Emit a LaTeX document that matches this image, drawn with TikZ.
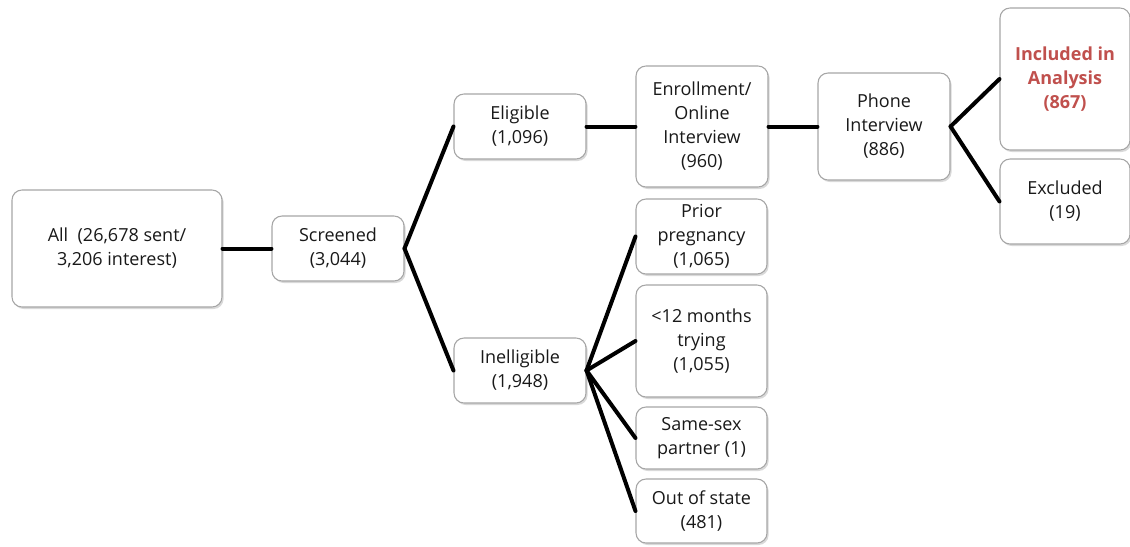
\documentclass[tikz,border=0pt]{standalone}
\usepackage{fontspec}
\setmainfont{Open Sans}
\usetikzlibrary{shadows}
\definecolor{incred}{HTML}{C0504D}
\definecolor{boxline}{HTML}{A6A6A6}
\tikzset{
  box/.style={draw=boxline, line width=0.8pt, fill=white, rounded corners=7.5pt,
    align=center, inner sep=0pt, text=black!90,
    font=\fontsize{13.5}{18}\selectfont,
    drop shadow={opacity=0.3, shadow xshift=1.2pt, shadow yshift=-1.5pt}},
  conn/.style={line width=3pt, black, line cap=round}
}
\begin{document}
\begin{tikzpicture}[x=0.75pt,y=-0.75pt]
\useasboundingbox (0,0) rectangle (1130,546);
\node[box, minimum width=157.5pt, minimum height=87.75pt] (all) at (117,248.5) {All~~(26,678 sent/\\3,206 interest)};
\node[box, minimum width=99pt, minimum height=48.75pt] (scr) at (338,248.5) {Screened\\(3,044)};
\node[box, minimum width=99pt, minimum height=48.75pt] (eli) at (520,126.5) {Eligible\\(1,096)};
\node[box, minimum width=99pt, minimum height=48.75pt] (ine) at (520,370.5) {Inelligible\\(1,948)};
\node[box, minimum width=99pt, minimum height=90.75pt] (enr) at (702,126.5) {Enrollment/\\Online\\Interview\\(960)};
\node[box, minimum width=99pt, minimum height=80.25pt] (pho) at (884,126.5) {Phone\\Interview\\(886)};
\node[box, minimum width=97.5pt, minimum height=106.5pt, text=incred, font=\fontsize{13.5}{18}\selectfont\bfseries] (inc) at (1065,79) {Included in\\Analysis\\(867)};
\node[box, minimum width=97.5pt, minimum height=63.75pt] (exc) at (1065,201.5) {Excluded\\(19)};
\node[box, minimum width=98.25pt, minimum height=56.25pt] (pri) at (701.5,236.5) {Prior\\pregnancy\\(1,065)};
\node[box, minimum width=98.25pt, minimum height=84pt] (mon) at (701.5,341) {<12 months\\trying\\(1,055)};
\node[box, minimum width=98.25pt, minimum height=46.5pt] (sam) at (701.5,438) {Same-sex\\partner (1)};
\node[box, minimum width=98.25pt, minimum height=48pt] (out) at (701.5,511) {Out of state\\(481)};
% connectors
\draw[conn] (all.east) -- (scr.west);
\draw[conn] (scr.east) -- (eli.west);
\draw[conn] (scr.east) -- (ine.west);
\draw[conn] (eli.east) -- (enr.west);
\draw[conn] (enr.east) -- (pho.west);
\draw[conn] (pho.east) -- (inc.west);
\draw[conn] (pho.east) -- (exc.west);
\draw[conn] (ine.east) -- (pri.west);
\draw[conn] (ine.east) -- (mon.west);
\draw[conn] (ine.east) -- (sam.west);
\draw[conn] (ine.east) -- (out.west);
\end{tikzpicture}
\end{document}
